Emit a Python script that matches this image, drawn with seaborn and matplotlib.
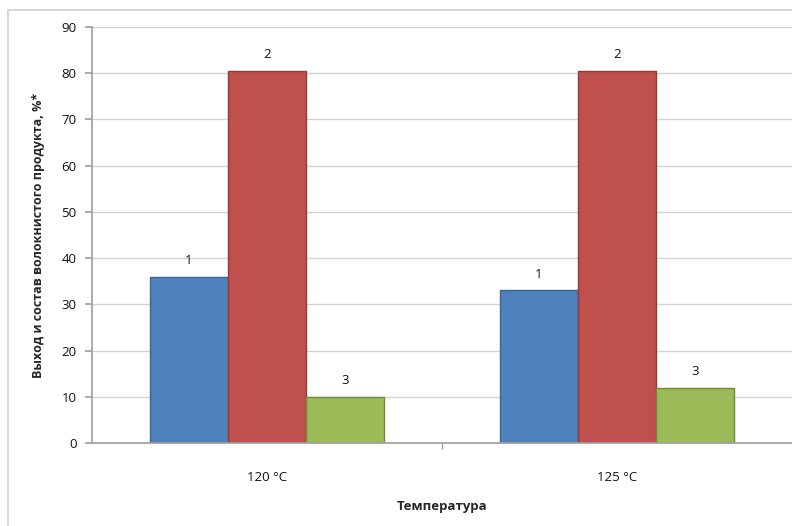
import pandas as pd
import seaborn as sns
import matplotlib.pyplot as plt
from matplotlib.patches import Rectangle

# данные
temps = ["120 °C", "125 °C"]
series = ["1", "2", "3"]
vals_1 = [36, 33]
vals_2 = [80.5, 80.5]
vals_3 = [10, 12]
yticks = [0, 10, 20, 30, 40, 50, 60, 70, 80, 90]

colors = ["#4F81BD", "#C0504D", "#9BBB59"]
edges = ["#3A6595", "#8E3B39", "#71893F"]

df = pd.DataFrame({
    "Температура": temps * 3,
    "series": [s for s in series for _ in temps],
    "value": vals_1 + vals_2 + vals_3,
})

sns.set_theme(style="white")
plt.rcParams['font.family'] = ['Open Sans', 'DejaVu Sans']

fig = plt.figure(figsize=(7.92, 5.26), dpi=100)
fig.patches.append(Rectangle((8 / 792, -0.1), 1.0, 1 - 10 / 526 + 0.1,
                             transform=fig.transFigure, fill=False,
                             edgecolor="#D0D0D0", linewidth=1.2))
ax = fig.add_axes([92 / 792, 1 - 443 / 526, 1 - 92 / 792, (443 - 27) / 526])

sns.barplot(data=df, x="Температура", y="value", hue="series",
            palette=colors, width=0.67, gap=0, legend=False, ax=ax,
            linewidth=1, saturation=1)

for cont, ec, lab in zip(ax.containers, edges, series):
    for bar in cont:
        bar.set_edgecolor(ec)
    ax.bar_label(cont, labels=[lab] * len(cont), padding=7, fontsize=9.5,
                 color="#111111")

ax.set_xlim(-0.5, 1.5)
ax.set_ylim(0, 90)
ax.set_yticks(yticks)
ax.yaxis.grid(True, color="#D4D4D4", linewidth=1)
ax.set_axisbelow(True)
for s in ["top", "right"]:
    ax.spines[s].set_visible(False)
ax.spines["left"].set_color("#A0A0A0")
ax.spines["bottom"].set_color("#A0A0A0")
ax.tick_params(axis="y", left=True, length=5, color="#A0A0A0",
               labelsize=9.5, labelcolor="#111111", pad=6)
ax.set_xticks([0, 1])
ax.set_xticks([0.5], minor=True)
ax.tick_params(axis="x", which="major", bottom=False, labelsize=9.5,
               labelcolor="#111111", pad=14)
ax.tick_params(axis="x", which="minor", bottom=True, length=4,
               color="#A0A0A0")

ax.set_xlabel("Температура", fontsize=9.5, fontweight="bold", labelpad=12)
ax.set_ylabel("Выход и состав волокнистого продукта, %*", fontsize=9,
              fontweight="bold", labelpad=12)

fig.savefig("out.png", dpi=100)
